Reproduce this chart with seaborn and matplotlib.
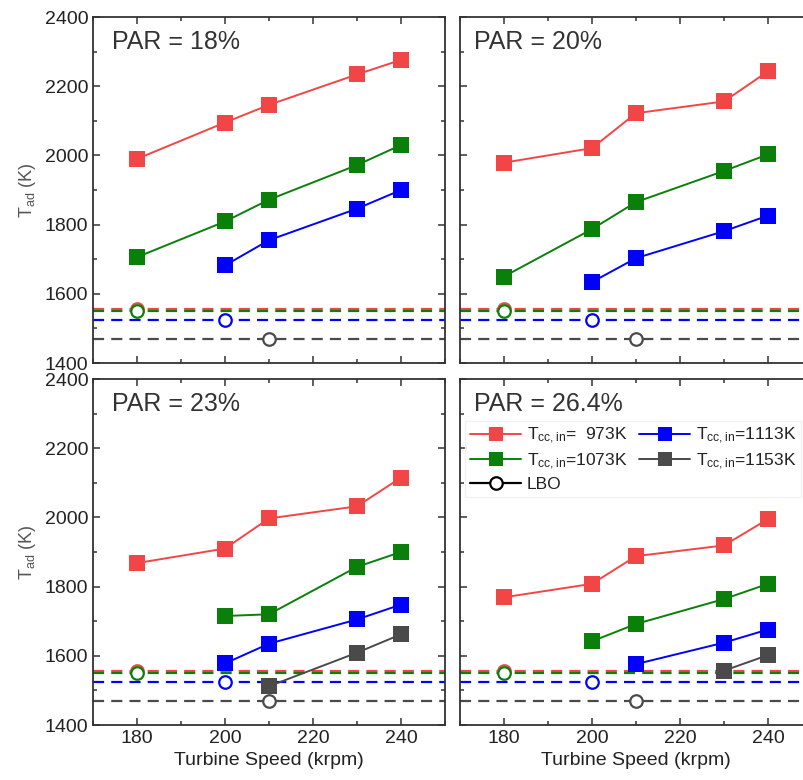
import numpy as np
import pandas as pd
import matplotlib
matplotlib.use("Agg")
import matplotlib.pyplot as plt
from matplotlib.lines import Line2D
from matplotlib.ticker import MultipleLocator
import seaborn as sns

sns.set_style("ticks")
plt.rcParams["font.family"] = ["Liberation Sans", "DejaVu Sans"]
plt.rcParams["mathtext.fontset"] = "custom"
plt.rcParams["mathtext.rm"] = "Liberation Sans"
plt.rcParams["mathtext.it"] = "Liberation Sans:italic"
plt.rcParams["mathtext.default"] = "regular"

# ---------------- data ----------------
speeds = [180, 200, 210, 230, 240]
series_names = ["973K", "1073K", "1113K", "1153K"]
par_labels = ["PAR = 18%", "PAR = 20%", "PAR = 23%", "PAR = 26.4%"]

nan = np.nan
par18 = {
    "973K": [1990, 2095, 2146, 2234, 2276],
    "1073K": [1706, 1809, 1872, 1972, 2030],
    "1113K": [nan, 1682, 1755, 1846, 1900],
    "1153K": [nan, nan, nan, nan, nan],
}
par20 = {
    "973K": [1979, 2021, 2122, 2156, 2243],
    "1073K": [1650, 1787, 1865, 1955, 2003],
    "1113K": [nan, 1634, 1703, 1781, 1826],
    "1153K": [nan, nan, nan, nan, nan],
}
par23 = {
    "973K": [1868, 1910, 1997, 2032, 2115],
    "1073K": [nan, 1715, 1720, 1857, 1900],
    "1113K": [nan, 1578, 1635, 1705, 1748],
    "1153K": [nan, nan, 1512, 1609, 1662],
}
par264 = {
    "973K": [1769, 1808, 1888, 1919, 1995],
    "1073K": [nan, 1642, 1692, 1764, 1808],
    "1113K": [nan, nan, 1576, 1638, 1676],
    "1153K": [nan, nan, nan, 1557, 1602],
}
panels = [par18, par20, par23, par264]

lbo_T = {"973K": 1555, "1073K": 1550, "1113K": 1523, "1153K": 1469}
lbo_speed = {"973K": 180, "1073K": 180, "1113K": 200, "1153K": 210}

legend_labels = {
    "973K": r"$T_{cc,in}$=  973K",
    "1073K": r"$T_{cc,in}$=1073K",
    "1113K": r"$T_{cc,in}$=1113K",
    "1153K": r"$T_{cc,in}$=1153K",
}

colors = {"973K": "#f24646", "1073K": "#0a800a", "1113K": "#0000ff", "1153K": "#4a4a4a"}

rows = []
for p, d in zip(par_labels, panels):
    for s in series_names:
        for x, y in zip(speeds, d[s]):
            rows.append((p, s, x, y))
df = pd.DataFrame(rows, columns=["panel", "series", "speed", "T"]).dropna()

# ---------------- figure ----------------
W, H = 804, 780
fig = plt.figure(figsize=(W / 100, H / 100), dpi=100)

def ax_rect(l, t, r, b):
    return [l / W, 1 - b / H, (r - l) / W, (b - t) / H]

rects = [
    ax_rect(93, 17, 445, 363),
    ax_rect(460, 17, 812, 363),
    ax_rect(93, 379, 445, 725),
    ax_rect(460, 379, 812, 725),
]

spine_c = "#333333"
for i, (rect, plabel) in enumerate(zip(rects, par_labels)):
    ax = fig.add_axes(rect)
    sub = df[df["panel"] == plabel]
    # LBO dashed lines
    for s in series_names:
        ax.axhline(lbo_T[s], color=colors[s], lw=1.6, ls=(0, (5, 3.2)), zorder=1)
    for s in series_names:
        ax.plot([lbo_speed[s]], [lbo_T[s]], marker="o", ms=9, mfc="white",
                mec=colors[s], mew=1.6, ls="none", zorder=2)
    for s in series_names:
        ss = sub[sub["series"] == s]
        if len(ss) == 0:
            continue
        sns.lineplot(data=ss, x="speed", y="T", color=colors[s], marker="s",
                     markersize=11, markeredgewidth=0, lw=1.4, estimator=None,
                     ax=ax, legend=False, zorder=3)
    ax.set_xlim(170, 250)
    ax.set_ylim(1400, 2400)
    ax.xaxis.set_major_locator(MultipleLocator(20))
    ax.xaxis.set_minor_locator(MultipleLocator(10))
    ax.yaxis.set_major_locator(MultipleLocator(200))
    ax.yaxis.set_minor_locator(MultipleLocator(100))
    ax.tick_params(which="both", direction="in", top=True, right=True,
                   colors=spine_c, labelcolor="#222222", labelsize=14, width=1.1)
    ax.tick_params(which="major", length=5)
    ax.tick_params(which="minor", length=3)
    for sp in ax.spines.values():
        sp.set_color(spine_c)
        sp.set_linewidth(1.3)
    ax.set_xlabel("")
    ax.set_ylabel("")
    if i in (0, 1):
        ax.tick_params(labelbottom=False)
    else:
        ax.set_xlabel("Turbine Speed (krpm)", fontsize=14, color="#222222", labelpad=4)
    if i in (1, 3):
        ax.tick_params(labelleft=False)
    else:
        ax.set_ylabel(r"$T_{ad}$ (K)", fontsize=13, color="#555555", labelpad=5)
    tx = 0.054 if i in (0, 2) else 0.04
    ax.text(tx, 0.907, plabel, transform=ax.transAxes, fontsize=18,
            color="#333333", va="baseline", ha="left")

    if i == 3:
        handles = []
        labels = []
        for s in ["973K", "1073K"]:
            handles.append(Line2D([], [], color=colors[s], marker="s", ms=10,
                                  mew=0, lw=1.4))
            labels.append(legend_labels[s])
        handles.append(Line2D([], [], color="black", marker="o", ms=9, mfc="white",
                              mec="black", mew=1.6, lw=1.6, ls="-"))
        labels.append("LBO")
        for s in ["1113K", "1153K"]:
            handles.append(Line2D([], [], color=colors[s], marker="s", ms=10,
                                  mew=0, lw=1.4))
            labels.append(legend_labels[s])
        leg = ax.legend(handles, labels, ncol=2, loc="upper left",
                        bbox_to_anchor=(0.0, 0.895), fontsize=12.5,
                        frameon=True, fancybox=False, edgecolor="#eeeeee",
                        handlelength=2.9, handletextpad=0.35, columnspacing=0.7,
                        labelspacing=0.3, borderpad=0.3, borderaxespad=0.3)
        for t in leg.get_texts():
            t.set_color("#222222")

fig.savefig("out.png", dpi=100)
